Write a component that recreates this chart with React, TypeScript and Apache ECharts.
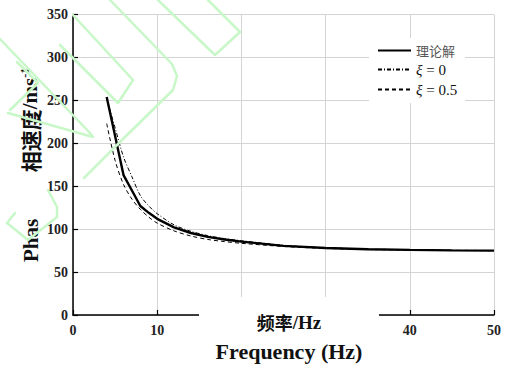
import React, { useEffect, useRef } from "react";
import * as echarts from "echarts";

const freq = [4, 5, 6, 7, 8, 9, 10, 12, 14, 16, 18, 20, 25, 30, 35, 40, 45, 50];
const theory = [254, 208.5, 163, 145, 127, 119, 112, 102, 95.5, 91, 88, 85.5, 80.5, 78, 76.5, 75.8, 75.3, 75];
const xi0 = [252, 218, 184, 161, 139, 127, 118, 105, 97.5, 92.5, 89, 86.5, 81.2, 78.4, 76.8, 76, 75.4, 75.1];
const xi05 = [223, 180, 152, 135, 123, 114, 107, 98, 92, 88, 85.5, 83.5, 79.8, 77.6, 76.3, 75.6, 75.2, 74.9];
const seriesNames = ["理论解", "ξ=0", "ξ=0.5"];
const xTicks = { min: 0, max: 50, interval: 10 };
const yTicks = { min: 0, max: 350, interval: 50 };
const hiddenXLabels = [20, 30];

const serif = "'Liberation Serif', 'Times New Roman', serif";
const cjk = "'Noto Sans CJK SC', sans-serif";

// faint green watermark strokes (decoration, page pixels)
const watermark: number[][][] = [
  [[158, 0], [215, 55], [240, 32], [208, 0]],
  [[110, 0], [172, 64], [177, 76], [173, 90], [125, 137], [84, 178]],
  [[73, 15], [133, 80], [118, 103], [60, 45]],
  [[0, 39], [90, 133], [93, 137], [8, 113]],
  [[48, 190], [57, 207], [57, 217], [28, 240], [7, 223], [15, 213]],
  [[17, 62], [38, 83], [10, 110]],
];

const toPairs = (ys: number[]) => freq.map((f, i) => [f, ys[i]]);

export default function App() {
  const ref = useRef<HTMLDivElement>(null);
  useEffect(() => {
    if (!ref.current) return;
    const chart = echarts.init(ref.current, null, { renderer: "svg" });
    const axisLabel = { fontFamily: serif, fontWeight: "bold", fontSize: 14, color: "#222" };
    chart.setOption({
      animation: false,
      backgroundColor: "#fff",
      color: ["#000", "#000", "#000"],
      grid: { left: 73, right: 11, top: 14.5, bottom: 50, containLabel: false },
      xAxis: {
        type: "value",
        ...xTicks,
        axisLine: { show: true, lineStyle: { color: "#000", width: 1.5 } },
        axisTick: { show: true, inside: true, length: 5, lineStyle: { color: "#000", width: 1.2 } },
        axisLabel: {
          ...axisLabel,
          margin: 8,
          formatter: (v: number) => (hiddenXLabels.includes(v) ? "" : String(v)),
        },
        splitLine: { show: true, lineStyle: { color: "#d4d4d4", width: 1 } },
      },
      yAxis: {
        type: "value",
        ...yTicks,
        axisLine: { show: true, lineStyle: { color: "#000", width: 1.5 } },
        axisTick: { show: true, inside: true, length: 5, lineStyle: { color: "#000", width: 1.2 } },
        axisLabel: { ...axisLabel, margin: 5 },
        splitLine: { show: true, lineStyle: { color: "#d4d4d4", width: 1 } },
      },
      legend: {
        orient: "vertical",
        left: 369,
        top: 38,
        padding: [6, 8, 6, 8],
        backgroundColor: "#fff",
        itemWidth: 33,
        itemHeight: 14,
        itemGap: 5,
        data: seriesNames,
        itemStyle: { opacity: 0 },
        formatter: (name: string) => {
          if (name === seriesNames[0]) return "{c|" + name + "}";
          const v = name.split("=")[1];
          return "{g|ξ}{n| = " + v + "}";
        },
        textStyle: {
          fontFamily: serif,
          fontSize: 15,
          color: "#111",
          rich: {
            c: { fontFamily: cjk, fontSize: 13, color: "#555" },
            g: { fontFamily: serif, fontStyle: "italic", fontSize: 15, color: "#111" },
            n: { fontFamily: serif, fontSize: 15, color: "#111" },
          },
        },
      },
      series: [
        {
          name: seriesNames[0],
          type: "line",
          data: toPairs(theory),
          symbol: "none",
          z: 4,
          itemStyle: { color: "#000" },
          lineStyle: { color: "#000", width: 2.4 },
        },
        {
          name: seriesNames[1],
          type: "line",
          data: toPairs(xi0),
          symbol: "none",
          smooth: 0.3,
          z: 3,
          itemStyle: { color: "#000" },
          lineStyle: { color: "#000", width: 1, type: [4, 2, 1, 2] },
        },
        {
          name: seriesNames[2],
          type: "line",
          data: toPairs(xi05),
          symbol: "none",
          smooth: 0.3,
          z: 3,
          itemStyle: { color: "#000" },
          lineStyle: { color: "#000", width: 1, type: [4, 3] },
        },
      ],
      graphic: [
        {
          type: "rect",
          z: 100,
          shape: { x: 199, y: 297, width: 180, height: 40 },
          style: { fill: "#fff" },
        },
        {
          type: "text",
          z: 101,
          x: 289,
          y: 322,
          style: {
            text: "{a|频率}{b|/Hz}",
            align: "center",
            verticalAlign: "middle",
            rich: {
              a: { fontFamily: cjk, fontWeight: "bold", fontSize: 18, fill: "#111" },
              b: { fontFamily: serif, fontWeight: "bold", fontSize: 19, fill: "#111" },
            },
          },
        },
        {
          type: "text",
          z: 101,
          x: 289,
          y: 351,
          style: {
            text: "Frequency (Hz)",
            align: "center",
            verticalAlign: "middle",
            fontFamily: serif,
            fontWeight: "bold",
            fontSize: 22,
            fill: "#111",
          },
        },
        {
          type: "text",
          z: 101,
          x: 30,
          y: 120,
          rotation: Math.PI / 2,
          style: {
            text: "{a|相速度}{b|/ms}{c|-1}",
            align: "center",
            verticalAlign: "middle",
            rich: {
              a: { fontFamily: cjk, fontWeight: "bold", fontSize: 21, fill: "#111" },
              b: { fontFamily: serif, fontWeight: "bold", fontSize: 21, fill: "#111" },
              c: { fontFamily: serif, fontWeight: "bold", fontSize: 12, fill: "#111", verticalAlign: "top", padding: [0, 0, 10, 0] },
            },
          },
        },
        {
          type: "text",
          z: 101,
          x: 31,
          y: 262,
          rotation: Math.PI / 2,
          style: {
            text: "Phas",
            align: "left",
            verticalAlign: "middle",
            fontFamily: serif,
            fontWeight: "bold",
            fontSize: 21,
            fill: "#111",
          },
        },
        ...watermark.map((pts) => ({
          type: "polyline",
          z: 120,
          silent: true,
          shape: { points: pts },
          style: { stroke: "#c8f7c8", lineWidth: 2.5, fill: "none", lineJoin: "round", lineCap: "round" },
        })),
      ],
    });
    return () => chart.dispose();
  }, []);
  return <div ref={ref} style={{ width: 505, height: 365, position: "absolute", left: 0, top: 0 }} />;
}
